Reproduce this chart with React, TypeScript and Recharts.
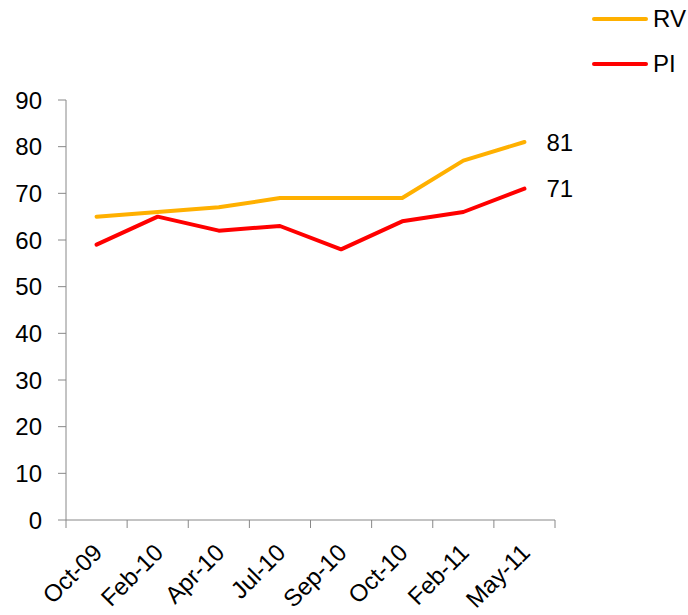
import React from 'react';
import { LineChart, Line, XAxis, YAxis, LabelList } from 'recharts';

const categories = ['Oct-09', 'Feb-10', 'Apr-10', 'Jul-10', 'Sep-10', 'Oct-10', 'Feb-11', 'May-11'];
const rvValues = [65, 66, 67, 69, 69, 69, 77, 81];
const piValues = [59, 65, 62, 63, 58, 64, 66, 71];
const yTicks = [0, 10, 20, 30, 40, 50, 60, 70, 80, 90];

const series = [
  { key: 'RV', color: '#FFB000' },
  { key: 'PI', color: '#FF0000' },
];

const W = 688;
const H = 615;
const yAxisWidth = 66;
const xAxisHeight = 95;
const margin = { top: 100, right: 133, bottom: 0, left: 0 };
const step = (W - yAxisWidth - margin.right) / categories.length;
const font = '"Liberation Sans", Arial, sans-serif';

const data = categories.map((name, i) => ({
  x: i + 0.5,
  name,
  RV: rvValues[i],
  PI: piValues[i],
}));

const XTick = (props: any) => {
  const { x, y, payload } = props;
  const label = categories[payload.value];
  if (!label) return null;
  const cx = x + step / 2 + 1;
  const cy = y + 18;
  return (
    <text
      x={cx}
      y={cy}
      transform={`rotate(-45 ${cx} ${cy})`}
      textAnchor="end"
      dominantBaseline="central"
      fontSize={24}
      fontFamily={font}
      fill="#000"
    >
      {label}
    </text>
  );
};

const EndLabel = (props: any) => {
  const { x, y, value, index } = props;
  if (index !== categories.length - 1) return null;
  return (
    <text x={x + 22} y={y} dominantBaseline="central" fontSize={24} fontFamily={font} fill="#000">
      {value}
    </text>
  );
};

export default function App() {
  return (
    <div style={{ position: 'absolute', left: 0, top: 0, width: W, height: H, background: '#fff' }}>
      <LineChart width={W} height={H} data={data} margin={margin}>
        <XAxis
          dataKey="x"
          type="number"
          domain={[0, categories.length]}
          ticks={categories.map((_, i) => i).concat(categories.length)}
          interval={0}
          height={xAxisHeight}
          stroke="#888"
          tickSize={8}
          tick={<XTick />}
        />
        <YAxis
          type="number"
          domain={[0, 90]}
          ticks={yTicks}
          interval={0}
          width={yAxisWidth}
          stroke="#888"
          tickSize={8}
          tickMargin={16}
          tick={{ fill: '#000', fontSize: 24, fontFamily: font }}
        />
        {series.map((s) => (
          <Line
            key={s.key}
            dataKey={s.key}
            stroke={s.color}
            strokeWidth={4}
            strokeLinecap="round"
            strokeLinejoin="round"
            dot={false}
            isAnimationActive={false}
          >
            <LabelList dataKey={s.key} content={<EndLabel />} />
          </Line>
        ))}
      </LineChart>
      {series.map((s, i) => (
        <div
          key={s.key}
          style={{
            position: 'absolute',
            left: 592,
            top: 19 + i * 45 - 15,
            height: 30,
            display: 'flex',
            alignItems: 'center',
            fontFamily: font,
            fontSize: 24,
            color: '#000',
          }}
        >
          <div style={{ width: 56, height: 4, borderRadius: 2, background: s.color, marginRight: 5 }} />
          {s.key}
        </div>
      ))}
    </div>
  );
}
